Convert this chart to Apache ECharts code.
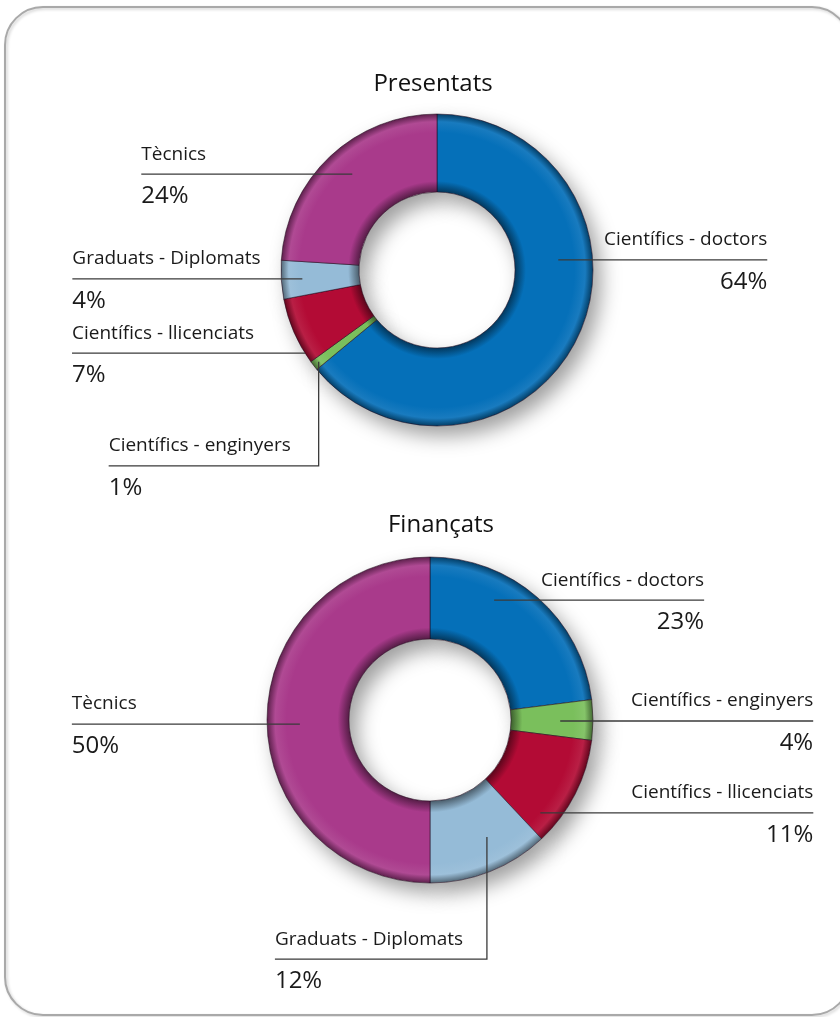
<!DOCTYPE html>
<html>
<head>
<meta charset="utf-8">
<script src="https://cdn.jsdelivr.net/npm/echarts@6/dist/echarts.min.js"></script>
<style>
html, body { margin: 0; padding: 0; background: #fff; }
#chart { width: 840px; height: 1017px; }
</style>
</head>
<body>
<div id="chart"></div>
<script>
// categories, clockwise from 12 o'clock
var categories = ['Científics - doctors', 'Científics - enginyers', 'Científics - llicenciats', 'Graduats - Diplomats', 'Tècnics'];
// percentatges
var presentats = [64, 1, 7, 4, 24];
var financats = [23, 4, 11, 12, 50];
var titles = ['Presentats', 'Finançats'];

var colors = ['#0570b9', '#7abf5c', '#b30b35', '#95bbd7', '#a93a8b'];
var FONT = '"Open Sans", "Noto Sans", sans-serif';

// where each label line starts / goes:
// [along slice 0..1, across ring 0..1, horizontal length, drop, side (+1 right, -1 left)]
var spotsTop = [
    [0.37, 0.56, 209, 0, 1],
    [0.5, 0.92, 210, 104, -1],
    [0.15, 1.0, 233, 0, -1],
    [0.49, 0.73, 230, 0, -1],
    [0.52, 0.64, 211, 0, -1]
];
var spotsBottom = [
    [0.34, 0.67, 210, 0, 1],
    [0.53, 0.6, 253, 0, 1],
    [0.83, 0.77, 273, 0, 1],
    [0.4, 0.6, 212, 122, -1],
    [0.49, 0.6, 228, 0, -1]
];

var chart = echarts.init(document.getElementById('chart'));

function shade(hex, f) {
    var n = parseInt(hex.slice(1), 16);
    var r = n >> 16, g = (n >> 8) & 255, b = n & 255;
    var c = function (v) { return Math.max(0, Math.min(255, Math.round(f < 1 ? v * f : v + (255 - v) * (f - 1)))); };
    return 'rgb(' + c(r) + ',' + c(g) + ',' + c(b) + ')';
}

// bevel-ish look: darker near the hole and the outer rim
function ringColor(hex, center, radius) {
    var k = radius[0] / radius[1];
    return new echarts.graphic.RadialGradient(center[0], center[1], radius[1], [
        { offset: 0, color: shade(hex, 0.5) },
        { offset: k, color: shade(hex, 0.5) },
        { offset: k + 0.07, color: hex },
        { offset: 0.88, color: hex },
        { offset: 0.95, color: shade(hex, 1.08) },
        { offset: 1, color: shade(hex, 0.55) }
    ], true);
}

function makeLayout(values, spots, center, radius) {
    var total = values.reduce(function (a, b) { return a + b; }, 0);
    var starts = [];
    var acc = 0;
    values.forEach(function (v) { starts.push(acc / total * 360); acc += v; });
    return function (params) {
        var i = params.dataIndex;
        var s = spots[i];
        var ang = (starts[i] + s[0] * values[i] / total * 360) * Math.PI / 180;
        var rr = radius[0] + s[1] * (radius[1] - radius[0]);
        var ax = center[0] + rr * Math.sin(ang);
        var ay = center[1] - rr * Math.cos(ang);
        var ly = ay + s[3];
        var ex = ax + s[4] * s[2];
        return {
            x: ex,
            y: ly - 40,
            align: s[4] > 0 ? 'right' : 'left',
            verticalAlign: 'top',
            labelLinePoints: [[ax, ay], [ax, ly], [ex, ly]]
        };
    };
}

function buildSeries(values, spots, center, radius) {
    var items = function (style) {
        return values.map(function (v, i) {
            return { name: categories[i], value: v, itemStyle: style ? style(i) : undefined };
        });
    };
    // white copy underneath, only to cast the drop shadow
    var shadow = {
        type: 'pie',
        silent: true,
        z: 1,
        center: center,
        radius: radius,
        startAngle: 90,
        label: { show: false },
        labelLine: { show: false },
        itemStyle: {
            color: '#fff',
            shadowBlur: 20,
            shadowOffsetX: 8,
            shadowOffsetY: 10,
            shadowColor: 'rgba(0,0,0,0.38)'
        },
        data: items()
    };
    var main = {
        type: 'pie',
        z: 2,
        center: center,
        radius: radius,
        startAngle: 90,
        emphasis: { disabled: true },
        label: { show: false },
        labelLine: { show: false },
        itemStyle: {
            borderColor: 'rgba(35,10,30,0.55)',
            borderWidth: 1
        },
        data: items(function (i) { return { color: ringColor(colors[i], center, radius) }; })
    };
    // transparent copy on top, carries the labels so the lines run over the ring
    var labels = {
        type: 'pie',
        z: 3,
        silent: true,
        center: center,
        radius: radius,
        startAngle: 90,
        avoidLabelOverlap: false,
        emphasis: { disabled: true },
        itemStyle: { color: 'rgba(0,0,0,0)' },
        label: {
            show: true,
            position: 'outside',
            formatter: function (p) {
                return '{name|' + p.name + '}\n{pct|' + Math.round(p.percent) + '%}';
            },
            rich: {
                name: { fontSize: 19, lineHeight: 40, color: '#1a1a1a', fontFamily: FONT },
                pct: { fontSize: 24, lineHeight: 44, color: '#1a1a1a', fontFamily: FONT }
            }
        },
        labelLine: {
            show: true,
            length: 10,
            length2: 10,
            smooth: false,
            lineStyle: { color: '#3a3a3a', width: 1.3 }
        },
        labelLayout: makeLayout(values, spots, center, radius),
        data: items()
    };
    return [shadow, main, labels];
}

var titleStyle = { fontSize: 24, lineHeight: 24, fontWeight: 500, color: '#111', fontFamily: FONT };

var option = {
    animation: false,
    backgroundColor: '#fff',
    title: [
        { text: titles[0], left: 433, top: 72, textAlign: 'center', padding: 0, textStyle: titleStyle },
        { text: titles[1], left: 441, top: 513, textAlign: 'center', padding: 0, textStyle: titleStyle }
    ],
    graphic: [{
        type: 'rect',
        silent: true,
        z: -10,
        shape: { x: 5, y: 7, width: 845, height: 1008, r: 38 },
        style: {
            fill: null,
            stroke: '#a9a9a9',
            lineWidth: 2,
            shadowBlur: 3,
            shadowOffsetX: 1.5,
            shadowOffsetY: 1.5,
            shadowColor: 'rgba(0,0,0,0.2)'
        }
    }],
    series: [].concat(
        buildSeries(presentats, spotsTop, [437, 270], [78, 156]),
        buildSeries(financats, spotsBottom, [430, 720], [81, 163])
    )
};

chart.setOption(option);
</script>
</body>
</html>
